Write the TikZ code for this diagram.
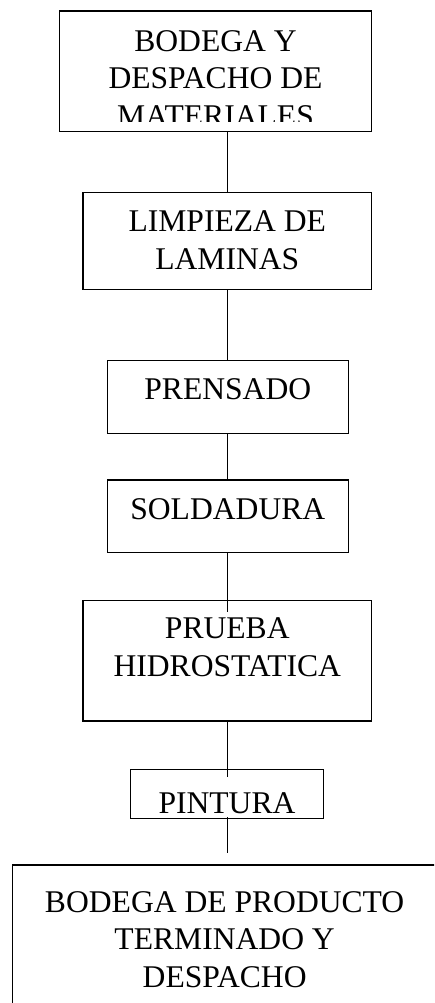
\documentclass[tikz,border=0pt]{standalone}
\usepackage{fontspec}
\setmainfont{Liberation Serif}
\usetikzlibrary{positioning,calc}

\begin{document}
\begin{tikzpicture}[x=1pt, y=-1pt,
    caja/.style={draw, line width=1.2pt, inner sep=0pt},
    texto/.style={inner sep=0pt, align=center, font=\fontsize{31.6}{37.7}\selectfont},
    linea/.style={line width=1.2pt}]
    \useasboundingbox (0,0) rectangle (434,1003);
    \clip (0,0) rectangle (434,1003);

    % eje de los conectores
    \coordinate (eje) at (227.7,0);

    % cajas del proceso
    \node[caja, minimum width=312.4pt, minimum height=120.7pt] (c1) at (215.5,71.35) {};
    \node[caja, minimum width=288.7pt, minimum height=96.6pt] (c2) at (227.3,241) {};
    \node[caja, minimum width=241pt, minimum height=72.6pt] (c3) at (227.8,397) {};
    \node[caja, minimum width=241pt, minimum height=72.7pt] (c4) at (227.8,516.35) {};
    \node[caja, minimum width=288.7pt, minimum height=120.3pt] (c5) at (227.3,660.85) {};
    \node[caja, minimum width=192.6pt, minimum height=49pt] (c6) at (227,793.8) {};
    \node[caja, minimum width=424.7pt, minimum height=155pt] (c7) at (224.65,942.5) {};

    % textos (el de arriba queda cortado por su caja)
    \begin{scope}
        \clip (c1.north west) rectangle ([yshift=11pt]c1.south east);
        \node[texto, below=19.6pt of c1.north] (t1) {BODEGA Y\\DESPACHO DE\\MATERIALES};
    \end{scope}
    \node[texto, below=18.2pt of c2.north] (t2) {LIMPIEZA DE\\LAMINAS};
    \node[texto, below=17.9pt of c3.north] (t3) {PRENSADO};
    \node[texto, below=19.3pt of c4.north] (t4) {SOLDADURA};
    \node[texto, below=17.2pt of c5.north] (t5) {PRUEBA\\HIDROSTATICA};
    \node[texto, below=23.4pt of c6.north] (t6) {PINTURA};
    \node[texto, below=26.6pt of c7.north] (t7) {BODEGA DE PRODUCTO\\TERMINADO Y\\DESPACHO};

    % conectores
    \draw[linea] (c1.south -| eje) -- (c2.north -| eje);
    \draw[linea] (c2.south -| eje) -- (c3.north -| eje);
    \draw[linea] (c3.south -| eje) -- (c4.north -| eje);
    \draw[linea] (c4.south -| eje) -- ($(c5.north -| eje)+(0,12.3)$);
    \draw[linea] (c5.south -| eje) -- ($(c6.north -| eje)+(0,8.7)$);
    \draw[linea] ($(c6.south -| eje)+(0,-1.6)$) -- ($(c7.north -| eje)+(0,-11)$);
\end{tikzpicture}
\end{document}
